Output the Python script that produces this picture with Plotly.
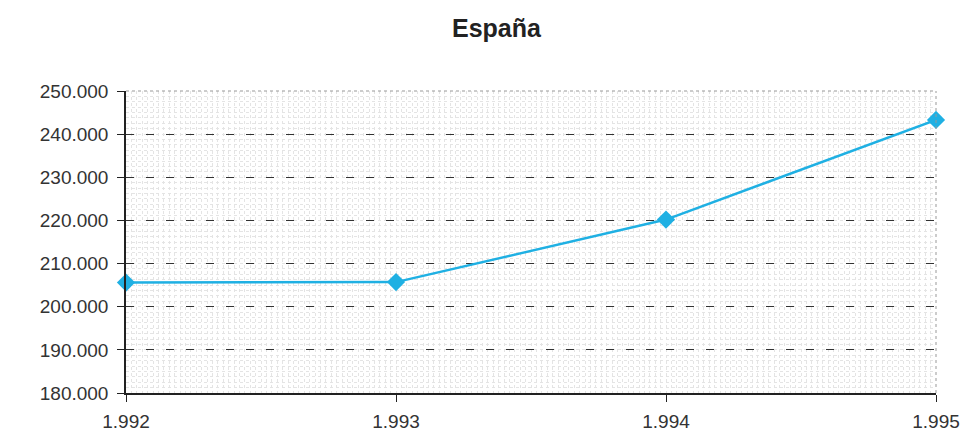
import plotly.graph_objects as go

# Annual series for Spain
years = [1992, 1993, 1994, 1995]
values = [205600, 205700, 220200, 243300]

x_tick_labels = ["1.992", "1.993", "1.994", "1.995"]
y_tick_vals = [180000, 190000, 200000, 210000, 220000, 230000, 240000, 250000]
y_tick_labels = ["180.000", "190.000", "200.000", "210.000", "220.000", "230.000", "240.000", "250.000"]

LINE_COLOR = "#1fb0e3"
FONT = "Liberation Sans, Arial, sans-serif"

fig = go.Figure()
fig.add_trace(go.Scatter(
    x=years, y=values,
    mode="lines+markers",
    line=dict(color=LINE_COLOR, width=2.5),
    marker=dict(symbol="diamond", size=14, color=LINE_COLOR),
    cliponaxis=False,
    showlegend=False,
))

fig.update_layout(
    width=964, height=432,
    margin=dict(l=126, r=28, t=91, b=39),
    paper_bgcolor="white",
    plot_bgcolor="white",
    title=dict(text="<b>España</b>", x=0.515, xanchor="center", y=0.935, yanchor="middle",
               font=dict(family=FONT, size=25, color="#222")),
    font=dict(family=FONT, size=19, color="#333"),
    xaxis=dict(
        range=[1992, 1995], automargin=False,
        tickvals=years, ticktext=x_tick_labels,
        ticks="outside", ticklen=7, tickcolor="#222",
        ticklabelstandoff=3,
        showline=True, linecolor="#222", linewidth=1.5,
        showgrid=False, zeroline=False,
        minor=dict(dtick=0.02, showgrid=True, gridcolor="#e4e4e4",
                   griddash="dot", gridwidth=1),
        tickfont=dict(size=19, color="#333"),
    ),
    yaxis=dict(
        range=[180000, 250000], automargin=False,
        tickvals=y_tick_vals, ticktext=y_tick_labels,
        ticks="outside", ticklen=7, tickcolor="#222",
        ticklabelstandoff=5,
        showline=True, linecolor="#222", linewidth=1.5,
        showgrid=True, gridcolor="#333", gridwidth=1.3, griddash="8px,12px",
        zeroline=False,
        minor=dict(dtick=1250, showgrid=True, gridcolor="#e4e4e4",
                   griddash="dot", gridwidth=1),
        tickfont=dict(size=19, color="#333"),
    ),
)

# dotted frame on the top and right of the plot area
fig.add_shape(type="line", xref="paper", yref="paper", x0=0, x1=1, y0=1, y1=1,
              line=dict(color="#999", width=1, dash="dot"))
fig.add_shape(type="line", xref="paper", yref="paper", x0=1, x1=1, y0=0, y1=1,
              line=dict(color="#999", width=1, dash="dot"))

fig.write_html("out.html")
